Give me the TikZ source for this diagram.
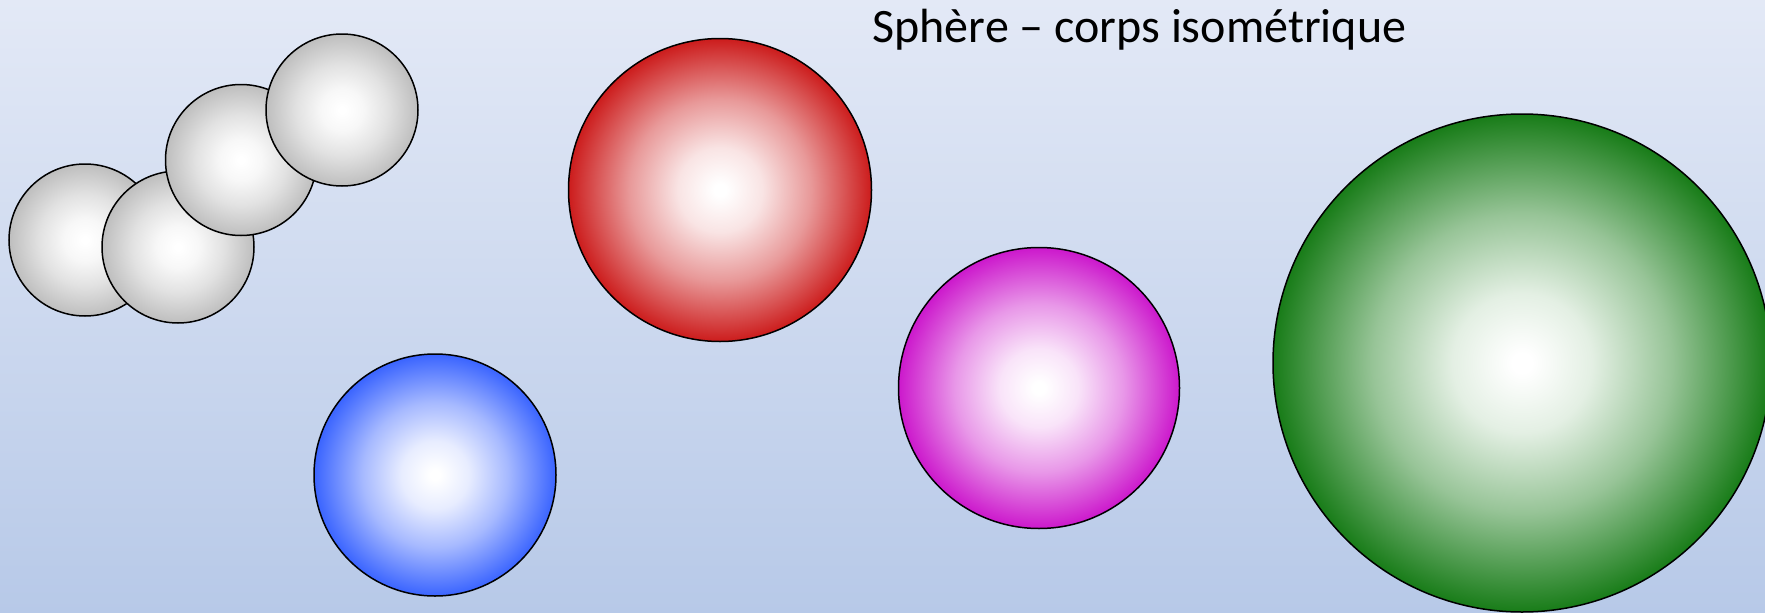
\documentclass[tikz,border=0pt]{standalone}
\usepackage{fontspec}
\setmainfont{Carlito}
\definecolor{bgtop}{RGB}{227,233,246}
\definecolor{bgbot}{RGB}{183,201,232}
\definecolor{sgray}{RGB}{190,190,190}
\definecolor{sred}{RGB}{204,28,28}
\definecolor{smag}{RGB}{204,24,204}
\definecolor{sblue}{RGB}{58,100,255}
\definecolor{sgreen}{RGB}{24,124,24}
\newcommand{\mkshade}[1]{%
  \pgfdeclareradialshading{sh#1}{\pgfpointorigin}{color(0bp)=(white); color(1bp)=(white); color(7bp)=(#1!12!white); color(15bp)=(#1!45!white); color(25bp)=(#1); color(50bp)=(#1)}}
\mkshade{sgray}\mkshade{sred}\mkshade{smag}\mkshade{sblue}\mkshade{sgreen}
\tikzset{
  ball/.style={circle, draw=black, line width=1.5pt, shading=sh#1, inner sep=0pt, minimum size=0pt},
}
\begin{document}
\begin{tikzpicture}[x=1pt,y=-1pt]
\useasboundingbox (0,0) rectangle (1765,613);
\shade[top color=bgtop, bottom color=bgbot] (0,0) rectangle (1765,613);
\node[font=\fontsize{48}{58}\selectfont, anchor=base west] (title) at (869,42) {Sphère – corps isométrique};
\begin{scope}
\clip (0,0) rectangle (1765,613);
\node[ball=sgray, minimum size=152pt] (g1) at (85,240) {};
\node[ball=sgray, minimum size=152pt] (g2) at (178,247) {};
\node[ball=sgray, minimum size=151pt] (g3) at (241,160) {};
\node[ball=sgray, minimum size=152pt] (g4) at (342,110) {};
\node[ball=sred, minimum size=303pt] (red) at (720,190) {};
\node[ball=sblue, minimum size=242pt] (blue) at (435,475) {};
\node[ball=smag, minimum size=281pt] (mag) at (1039,388) {};
\node[ball=sgreen, minimum size=498pt] (green) at (1522,363) {};
\end{scope}
\end{tikzpicture}
\end{document}
